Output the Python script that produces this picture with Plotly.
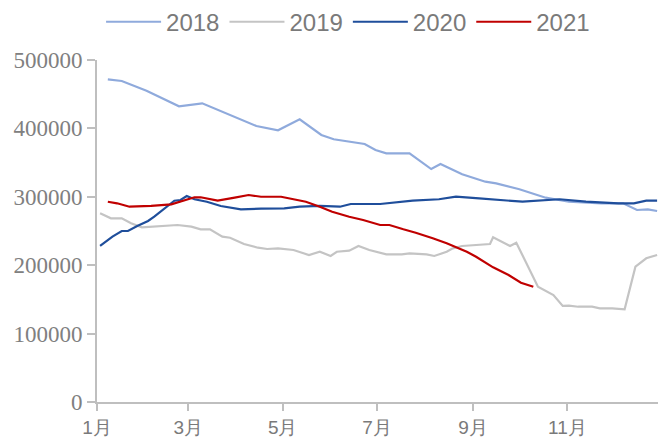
import plotly.graph_objects as go

series_names = ["2018", "2019", "2020", "2021"]
series_colors = ["#8faadc", "#c4c4c4", "#1f4e9b", "#c00000"]

dates_2018 = ["01-08", "01-17", "02-02", "02-23", "03-10", "03-25", "04-14", "04-28", "05-12", "05-26",
              "06-03", "06-23", "06-30", "07-07", "07-22", "08-05", "08-11", "08-25", "09-09", "09-16",
              "10-01", "10-18", "11-02", "11-23", "12-07", "12-16", "12-23", "12-29"]
vals_2018 = [471800, 469300, 455100, 432300, 436700, 422100, 403500, 397200, 413300, 390400,
             384100, 377200, 368400, 363600, 363600, 340600, 348000, 332900, 322100, 319700,
             311000, 298700, 292800, 290500, 290500, 280700, 281700, 279200]

dates_2019 = ["01-03", "01-10", "01-17", "01-23", "01-30", "02-07", "02-14", "02-22", "03-03", "03-09",
              "03-15", "03-23", "03-28", "04-06", "04-15", "04-21", "04-28", "05-08", "05-18", "05-25",
              "06-01", "06-05", "06-13", "06-19", "06-26", "07-07", "07-17", "07-22", "08-02", "08-07",
              "08-15", "08-19", "08-25", "09-05", "09-12", "09-14", "09-25", "09-29", "10-13", "10-23",
              "10-29", "11-02", "11-08", "11-17", "11-22", "11-30", "12-08", "12-15", "12-22", "12-29"]
vals_2019 = [275900, 268600, 268600, 261300, 255400, 256300, 257300, 258800, 256300, 252500,
             252500, 241700, 240200, 231000, 225600, 223700, 224700, 222200, 214900, 219700,
             213500, 219700, 221200, 228100, 222200, 215900, 215900, 217400, 215900, 213500,
             219700, 224700, 228100, 229500, 231000, 240800, 228100, 232900, 168600, 156400,
             140400, 140800, 139300, 139300, 137000, 137000, 135500, 197800, 210100, 214900]

dates_2020 = ["01-03", "01-08", "01-11", "01-17", "01-21", "01-27", "02-03", "02-07", "02-14", "02-20",
              "02-24", "02-28", "03-05", "03-13", "03-22", "04-04", "04-17", "05-02", "05-12", "05-25",
              "06-07", "06-14", "07-03", "07-11", "07-24", "08-10", "08-21", "09-05", "09-14", "10-03",
              "10-27", "11-13", "12-04", "12-14", "12-22", "12-29"]
vals_2020 = [228100, 236800, 241700, 250000, 250000, 257300, 264600, 270900, 283200, 294300,
             295300, 301200, 296400, 292800, 286600, 281700, 282600, 283200, 285500, 286600,
             285500, 289500, 289500, 291400, 294300, 296400, 300100, 297800, 296400, 292800,
             296400, 292800, 290500, 290500, 294300, 294300]

dates_2021 = ["01-08", "01-14", "01-22", "02-05", "02-18", "02-24", "03-05", "03-09", "03-20", "03-31",
              "04-09", "04-17", "04-30", "05-08", "05-16", "05-25", "06-02", "06-13", "06-22", "07-03",
              "07-09", "07-18", "07-26", "08-06", "08-15", "08-28", "09-03", "09-14", "09-24", "10-02",
              "10-10"]
vals_2021 = [292800, 290500, 285500, 286600, 289000, 292800, 299300, 299300, 294300, 298700,
             302600, 300100, 300100, 296400, 292800, 285500, 278200, 270900, 266100, 258800,
             258800, 252500, 247500, 239300, 232000, 219700, 212400, 196900, 185700, 174400,
             168600]

tick_dates = ["01-01", "03-01", "05-01", "07-01", "09-01", "11-01"]
tick_labels = ["1月", "3月", "5月", "7月", "9月", "11月"]
y_ticks = [0, 100000, 200000, 300000, 400000, 500000]

base_year = "2021-"
all_dates = [dates_2018, dates_2019, dates_2020, dates_2021]
all_vals = [vals_2018, vals_2019, vals_2020, vals_2021]

fig = go.Figure()
for name, color, ds, vs in zip(series_names, series_colors, all_dates, all_vals):
    fig.add_trace(go.Scatter(
        x=[base_year + d for d in ds], y=vs, mode="lines", name=name,
        line=dict(color=color, width=2.2),
    ))

fig.update_layout(
    width=658, height=443,
    margin=dict(l=97, r=0, t=60, b=41, autoexpand=False),
    paper_bgcolor="white", plot_bgcolor="white",
    showlegend=True,
    legend=dict(
        orientation="h", x=0.529, xanchor="center", xref="container",
        y=0.95, yanchor="middle", yref="container",
        font=dict(family="Liberation Sans Narrow, Liberation Sans, Arial", size=24, color="#7a7a7a"),
        itemwidth=55, tracegroupgap=0, bgcolor="rgba(0,0,0,0)",
    ),
    xaxis=dict(
        type="date", automargin=False,
        range=[base_year + "01-01", base_year + "12-29 14:00"],
        tickmode="array",
        tickvals=[base_year + d for d in tick_dates],
        ticktext=tick_labels,
        ticks="outside", ticklen=7, tickwidth=1.5, tickcolor="#bfbfbf",
        showline=True, linecolor="#bfbfbf", linewidth=2,
        showgrid=False, zeroline=False,
        tickfont=dict(family="Liberation Sans, Arial", size=19, color="#7a7a7a"),
    ),
    yaxis=dict(
        range=[0, 500000], automargin=False,
        tickmode="array", tickvals=y_ticks, ticktext=[str(v) for v in y_ticks],
        ticks="outside", ticklen=8, tickwidth=1.5, tickcolor="#bfbfbf",
        showline=True, linecolor="#bfbfbf", linewidth=2,
        showgrid=False, zeroline=False,
        tickfont=dict(family="Liberation Serif, Times New Roman, serif", size=23, color="#808080"),
    ),
)

# remove the default page margin so the figure fills the window exactly
fig.write_html(
    "out.html",
    config={"displayModeBar": False},
    post_script="document.body.style.margin='0';document.body.style.overflow='hidden';",
)
